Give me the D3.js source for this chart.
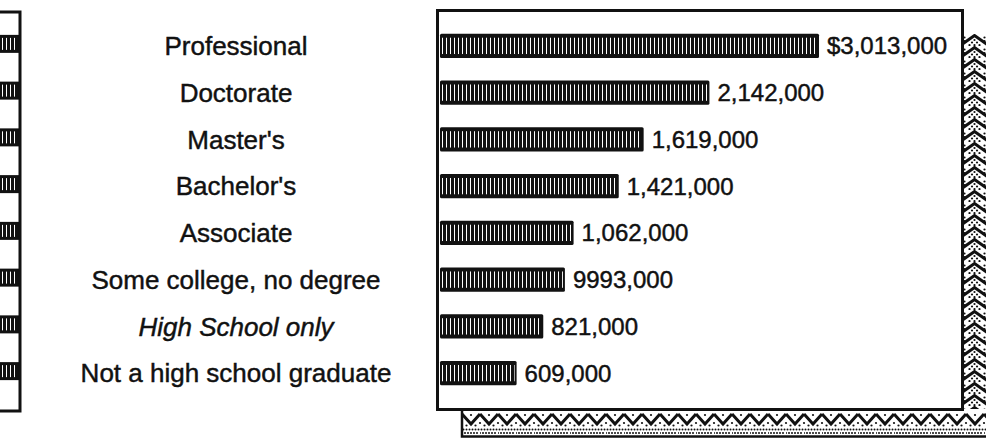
<!DOCTYPE html>
<html><head><meta charset="utf-8">
<script src="https://cdn.jsdelivr.net/npm/d3@7"></script>
<style>
html,body{margin:0;padding:0;background:#fff;}
svg{display:block;}
text{font-family:"Liberation Sans", Arial, Helvetica, sans-serif; fill:#111; stroke:#111; stroke-width:0.45px;}
</style></head><body>
<svg id="chart" width="986" height="438"></svg>
<script>
// ---- data ----
const categories = ["Professional","Doctorate","Master's","Bachelor's","Associate","Some college, no degree","High School only","Not a high school graduate"];
const earnings = [3013000,2142000,1619000,1421000,1062000,993000,821000,609000];
const valueLabels = ["$3,013,000","2,142,000","1,619,000","1,421,000","1,062,000","9993,000","821,000","609,000"];
const italicCategories = ["High School only"];

const W = 986, H = 438;
const svg = d3.select("#chart");
const defs = svg.append("defs");

// bar stripe pattern: black with thin white vertical lines
const pStripe = defs.append("pattern").attr("id","stripe").attr("patternUnits","userSpaceOnUse")
  .attr("width",4).attr("height",10);
pStripe.append("rect").attr("width",4).attr("height",10).attr("fill","#111");
pStripe.append("rect").attr("x",2).attr("width",1).attr("height",10).attr("fill","#fff").attr("shape-rendering","crispEdges");

// right shadow pattern: stacked upward chevrons with dots
const pChev = defs.append("pattern").attr("id","chev").attr("patternUnits","userSpaceOnUse")
  .attr("width",23).attr("height",12).attr("patternTransform","translate(963,34)");
pChev.append("rect").attr("width",23).attr("height",12).attr("fill","#fff");
pChev.append("path").attr("d","M-2,11 L11.5,1.5 L25,11").attr("fill","none").attr("stroke","#111").attr("stroke-width",3);
[[11.5,6],[9,8.5],[14,8.5],[6.5,11],[11.5,11],[16.5,11],[1.5,3.5],[21.5,3.5],[1.5,7],[21.5,7]].forEach(([cx,cy])=>
  pChev.append("circle").attr("cx",cx).attr("cy",cy).attr("r",1.1).attr("fill","#111"));

// bottom shadow pattern: zigzag with dotted rows
const pZig = defs.append("pattern").attr("id","zig").attr("patternUnits","userSpaceOnUse")
  .attr("width",18).attr("height",27).attr("patternTransform","translate(462,410)");
pZig.append("rect").attr("width",18).attr("height",27).attr("fill","#fff");
pZig.append("path").attr("d","M0,4 L9,14 L18,4").attr("fill","none").attr("stroke","#111").attr("stroke-width",3);
[[9,5],[0,13],[18,13],[4.5,15.5],[13.5,15.5]].forEach(([cx,cy])=>
  pZig.append("circle").attr("cx",cx).attr("cy",cy).attr("r",1.1).attr("fill","#111"));
for (let i=0;i<6;i++){
  pZig.append("circle").attr("cx",i*3+1.5).attr("cy",19.5).attr("r",1).attr("fill","#111");
  pZig.append("circle").attr("cx",i*3).attr("cy",23).attr("r",1).attr("fill","#111");
}

// ---- scales ----
const y = d3.scaleBand().domain(categories).range([22.5, 396.5]).paddingInner(0.48).paddingOuter(0.24);
const x = d3.scaleLinear().domain([0, 3013000]).range([440, 819]);
const bw = y.bandwidth();

// ---- left partial panel ----
const left = svg.append("g");
left.selectAll("g.lbar").data(categories).join("g").attr("class","lbar").each(function(c){
  const g = d3.select(this);
  const yy = y(c) + bw/2 - 11;
  g.append("rect").attr("x",-2).attr("y",yy).attr("width",22).attr("height",18).attr("fill","#111");
  g.append("rect").attr("x",0).attr("y",yy+3).attr("width",17).attr("height",12).attr("fill","url(#stripe)");
});
left.append("path").attr("d","M0,12 H20 V411 H0").attr("fill","none").attr("stroke","#111").attr("stroke-width",3);

// ---- category labels ----
svg.append("g").selectAll("text").data(categories).join("text")
  .attr("x",236).attr("y",c=>y(c)+bw/2+9.3)
  .attr("text-anchor","middle").attr("font-size",26)
  .attr("font-style",c=>italicCategories.includes(c)?"italic":"normal")
  .text(c=>c);

// ---- shadow ----
svg.append("rect").attr("x",962).attr("y",34).attr("width",W-962).attr("height",H-34).attr("fill","url(#chev)");
svg.append("rect").attr("x",462).attr("y",409).attr("width",W-462).attr("height",H-409).attr("fill","url(#zig)");
svg.append("path").attr("d","M462,409 V436.5 H986").attr("fill","none").attr("stroke","#111").attr("stroke-width",2.5);

// ---- main box ----
svg.append("rect").attr("x",437.5).attr("y",10.5).attr("width",525).attr("height",399)
  .attr("fill","#fff").attr("stroke","#111").attr("stroke-width",3);

// ---- bars ----
const rows = categories.map((c,i)=>({c, v:earnings[i], label:valueLabels[i]}));
const bars = svg.append("g").selectAll("g.bar").data(rows).join("g").attr("class","bar");
bars.append("rect").attr("x",x(0)).attr("y",d=>y(d.c)).attr("width",d=>x(d.v)-x(0)).attr("height",bw)
  .attr("rx",1.5).attr("fill","#111");
bars.append("rect").attr("x",x(0)+2).attr("y",d=>y(d.c)+4).attr("width",d=>x(d.v)-x(0)-4).attr("height",bw-8)
  .attr("fill","url(#stripe)");
bars.append("text").attr("x",d=>x(d.v)+8).attr("y",d=>y(d.c)+bw/2+8.6)
  .attr("font-size",24).text(d=>d.label);
</script>
</body></html>
